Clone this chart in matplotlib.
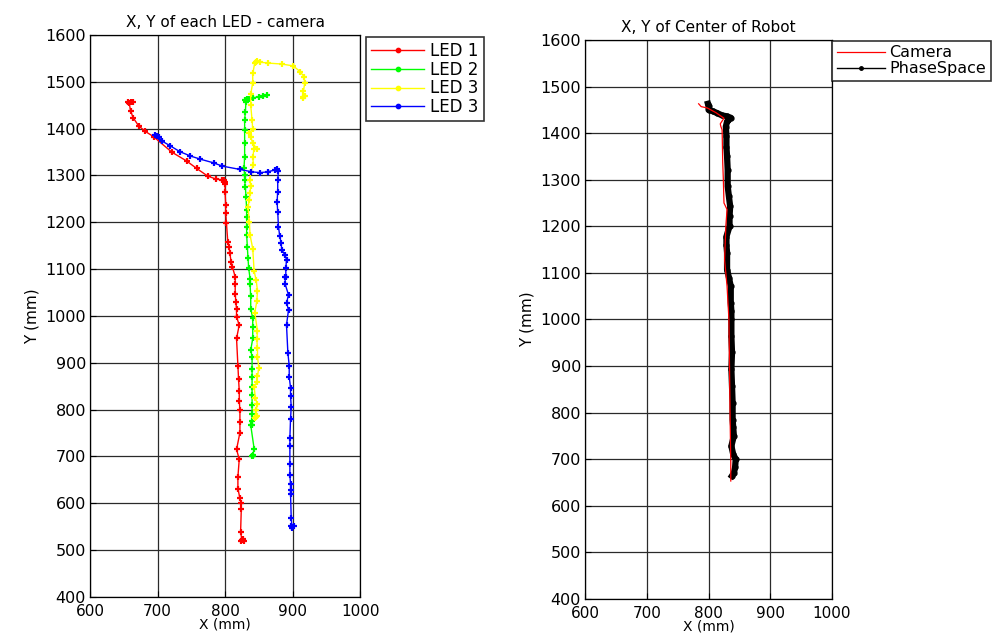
import matplotlib
matplotlib.use("Agg")
import matplotlib.pyplot as plt
from matplotlib.lines import Line2D

plt.rcParams['font.family'] = ['DejaVu Sans']

# ---------------- data (left: LEDs from camera) ----------------
led1_x = [656, 660, 663, 658, 660, 664, 672, 682, 694, 721, 743, 758, 774, 787, 795, 799, 800, 800,
          800, 801, 801, 802, 804, 806, 807, 809, 811, 815, 815, 815, 816, 817, 817, 821, 817,
          819, 820, 821, 821, 822, 822, 822, 817, 821, 819, 819, 822, 824, 824, 823, 825, 828, 826, 823]
led1_y = [1458, 1457, 1456, 1455, 1438, 1423, 1406, 1394, 1383, 1350, 1331, 1315, 1299, 1292, 1291, 1290, 1287, 1282,
          1265, 1237, 1219, 1199, 1159, 1148, 1134, 1116, 1104, 1084, 1068, 1047, 1030, 1015, 998, 981, 952,
          894, 865, 840, 819, 799, 774, 751, 715, 694, 656, 631, 611, 600, 587, 538, 522, 520, 524, 519]

led2_x = [862, 856, 850, 842, 836, 832, 829, 831, 830, 829, 829, 829, 829, 828, 829, 829, 830, 831,
          832, 832, 832, 832, 833, 834, 835, 837, 837, 838, 838, 841, 841, 841, 838, 840, 840,
          840, 840, 840, 840, 840, 840, 840, 838, 843, 841, 840, 842]
led2_y = [1471, 1470, 1468, 1466, 1464, 1463, 1461, 1458, 1436, 1418, 1397, 1369, 1340, 1315, 1301, 1290, 1276, 1255,
          1226, 1212, 1191, 1173, 1147, 1123, 1102, 1080, 1068, 1042, 1016, 995, 976, 952, 927, 913, 887,
          869, 848, 831, 809, 791, 776, 767, 767, 717, 701, 700, 703]

led3_x = [846, 848, 844, 846, 848, 845, 843, 847, 848, 850, 848, 848, 847, 848, 844, 847, 848, 846,
          843, 841, 837, 836, 834, 836, 837, 838, 837, 838, 842, 841, 843, 847, 841, 838, 836,
          841, 840, 838, 838, 841, 841, 844, 846, 848, 852, 864, 884, 901, 911, 917, 918, 916, 916, 918, 915]
led3_y = [784, 786, 782, 799, 812, 824, 849, 858, 871, 890, 913, 931, 950, 968, 1007, 1031, 1054, 1077,
          1096, 1144, 1173, 1201, 1233, 1248, 1263, 1277, 1290, 1308, 1322, 1340, 1357, 1357, 1369, 1382, 1390,
          1399, 1418, 1450, 1474, 1498, 1518, 1540, 1543, 1544, 1542, 1540, 1538, 1534, 1522, 1511, 1497, 1480, 1468, 1470, 1466]

led4_x = [696, 699, 702, 706, 718, 733, 748, 763, 783, 796, 822, 839, 852, 864, 874, 877, 879, 878,
          878, 877, 878, 879, 881, 883, 884, 889, 891, 890, 890, 889, 889, 894, 891, 894, 891,
          893, 895, 895, 897, 897, 898, 897, 896, 896, 896, 896, 897, 897, 897, 898, 899, 902, 899, 897]
led4_y = [1386, 1384, 1382, 1374, 1364, 1351, 1342, 1335, 1327, 1320, 1313, 1308, 1306, 1308, 1312, 1314, 1310, 1290,
          1265, 1244, 1223, 1191, 1171, 1156, 1141, 1130, 1120, 1102, 1083, 1084, 1068, 1045, 1028, 1013, 981,
          922, 894, 870, 847, 829, 806, 781, 740, 723, 685, 660, 641, 628, 619, 568, 550, 551, 548, 552]

led_series = [
    ("LED 1", led1_x, led1_y, "#ff0000"),
    ("LED 2", led2_x, led2_y, "#00ff00"),
    ("LED 3", led3_x, led3_y, "#ffff00"),
    ("LED 3", led4_x, led4_y, "#0000ff"),
]

# ---------------- data (right: centre of robot) ----------------
cam_x = [784, 788, 798, 812, 825, 819, 820, 822, 823, 824, 825, 830, 828, 826, 830, 833, 834, 835, 836, 836]
cam_y = [1463, 1457, 1454, 1444, 1432, 1420, 1414, 1407, 1336, 1300, 1250, 1236, 1200, 1128, 1071, 1000, 893, 785, 693, 653]

ps_x = [799, 800, 800, 807, 814, 822, 830, 836, 832, 830, 828, 829, 829, 830, 831, 831, 833, 835, 834, 834,
        829, 829, 830, 830, 833, 836, 836, 837, 837, 837, 838, 837, 838, 839, 839, 840, 841, 837, 840, 844,
        843, 841, 838]
ps_y = [1463, 1458, 1450, 1447, 1443, 1438, 1436, 1433, 1428, 1425, 1414, 1393, 1370, 1350, 1321, 1286, 1264, 1243, 1221, 1200,
        1178, 1160, 1143, 1107, 1090, 1071, 1036, 1018, 1000, 964, 929, 893, 857, 821, 785, 768, 750, 728, 710, 700,
        682, 670, 664]

x_ticks = [600, 700, 800, 900, 1000]
y_ticks = [400, 500, 600, 700, 800, 900, 1000, 1100, 1200, 1300, 1400, 1500, 1600]

TICK_FS = 11.5
fig = plt.figure(figsize=(9.95, 6.33), dpi=100)
ax1 = fig.add_axes([0.0905, 0.0569, 0.2714, 0.8878])
ax2 = fig.add_axes([0.5880, 0.0540, 0.2482, 0.8828])


def style(ax, title):
    ax.set_xlim(600, 1000)
    ax.set_ylim(400, 1600)
    ax.set_xticks(x_ticks)
    ax.set_yticks(y_ticks)
    ax.grid(True, color="#2a2a2a", linewidth=0.9)
    ax.set_axisbelow(True)
    ax.tick_params(direction="in", length=4, labelsize=TICK_FS, colors="black",
                   top=False, right=False, pad=3)
    ax.tick_params(axis="x", pad=5, labelsize=11)
    for s in ax.spines.values():
        s.set_color("black")
        s.set_linewidth(0.9)
    ax.set_title(title, fontsize=11, pad=6)
    ax.set_xlabel("X (mm)", fontsize=10, labelpad=-1)
    ax.set_ylabel("Y (mm)", fontsize=11, labelpad=4)


for name, xs, ys, col in led_series:
    ax1.plot(xs, ys, color=col, linewidth=1.0, marker="+", markersize=5,
             markeredgewidth=1.6, label=name)
style(ax1, "X, Y of each LED - camera")
leg1 = ax1.legend(loc="upper left", bbox_to_anchor=(1.022, 0.997), borderaxespad=0,
                  fontsize=12, frameon=True, fancybox=False, edgecolor="black",
                  handlelength=3.2, handletextpad=0.35, labelspacing=0.05,
                  borderpad=0.3)
leg1.get_frame().set_linewidth(1.2)
for h in leg1.legend_handles:
    h.set_marker(".")
    h.set_markersize(5)

ax2.plot(cam_x, cam_y, color="#ff0000", linewidth=0.9, zorder=3)
ax2.plot(ps_x, ps_y, color="black", linewidth=4.5, marker=".", markersize=7,
         solid_joinstyle="round", zorder=2)
style(ax2, "X, Y of Center of Robot")
handles = [Line2D([], [], color="#ff0000", linewidth=0.9),
           Line2D([], [], color="black", linewidth=1.0, marker=".", markersize=5)]
leg2 = ax2.legend(handles, ["Camera", "PhaseSpace"], loc="upper left",
                  bbox_to_anchor=(1.0, 0.999), borderaxespad=0,
                  fontsize=11.5, frameon=True, fancybox=False, edgecolor="black",
                  handlelength=3.0, handletextpad=0.3, labelspacing=0.05,
                  borderpad=0.3)
leg2.get_frame().set_linewidth(1.2)

fig.savefig("out.png", dpi=100)
